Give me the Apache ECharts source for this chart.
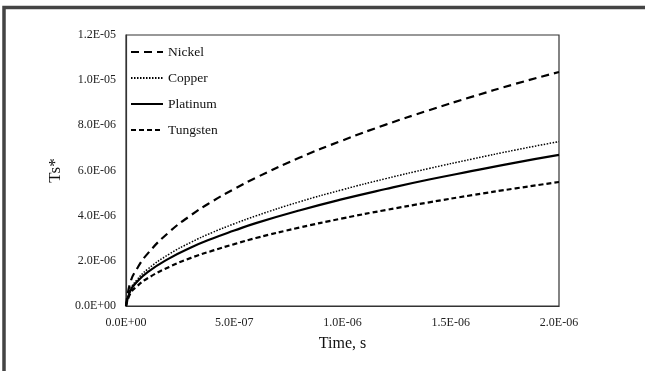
<!DOCTYPE html>
<html><head><meta charset="utf-8">
<script src="https://cdn.jsdelivr.net/npm/echarts@6/dist/echarts.min.js"></script>
<style>html,body{margin:0;padding:0;background:#fff}#c{width:645px;height:371px}</style>
</head><body><div id="c"></div>
<script>
// time (s)
var times = [0, 2e-8, 5e-8, 1e-7, 2e-7, 3e-7, 4e-7, 5e-7, 6e-7, 8e-7, 1e-6, 1.2e-6, 1.4e-6, 1.6e-6, 1.8e-6, 2e-6];
// Ts* values (units of 1e-6)
var nickel   = [0, 1.04, 1.64, 2.32, 3.28, 4.02, 4.64, 5.18, 5.68, 6.56, 7.33, 8.03, 8.67, 9.27, 9.84, 10.36];
var copper   = [0, 0.73, 1.15, 1.63, 2.30, 2.82, 3.26, 3.64, 3.99, 4.61, 5.15, 5.64, 6.09, 6.51, 6.91, 7.28];
var platinum = [0, 0.67, 1.06, 1.50, 2.11, 2.59, 2.99, 3.34, 3.67, 4.23, 4.73, 5.18, 5.60, 5.98, 6.35, 6.69];
var tungsten = [0, 0.55, 0.87, 1.23, 1.73, 2.13, 2.45, 2.74, 3.01, 3.47, 3.88, 4.25, 4.59, 4.91, 5.21, 5.49];
var seriesNames = ['Nickel', 'Copper', 'Platinum', 'Tungsten'];
var xTickLabels = ['0.0E+00', '5.0E-07', '1.0E-06', '1.5E-06', '2.0E-06'];
var yTickLabels = ['0.0E+00', '2.0E-06', '4.0E-06', '6.0E-06', '8.0E-06', '1.0E-05', '1.2E-05'];

function pairs(vals){ return times.map(function(t,i){ return [t, vals[i]*1e-6]; }); }
var font = '"Liberation Serif", "Times New Roman", serif';
var styles = [
  {type:[8,5], width:2.2},
  {type:[1.5,1.5], width:1.5},
  {type:'solid', width:2.2},
  {type:[5,3], width:2.2}
];
var dataSets = [nickel, copper, platinum, tungsten];
var chart = echarts.init(document.getElementById('c'));
chart.setOption({
  animation:false,
  backgroundColor:'#fff',
  graphic:[{type:'rect', shape:{x:4, y:7.5, width:700, height:400}, style:{fill:'none', stroke:'#444', lineWidth:3.5}, silent:true}],
  grid:{left:126, right:86, top:35, bottom:65, show:true, borderColor:'#333', borderWidth:1.2, containLabel:false},
  legend:{
    orient:'vertical', left:125, top:40, itemGap:12, itemWidth:32, itemHeight:14,
    textStyle:{fontFamily:font, fontSize:13.5, color:'#111'},
    itemStyle:{opacity:0, borderWidth:0},
    data:seriesNames
  },
  xAxis:{
    type:'value', min:0, max:2e-6, interval:5e-7,
    name:'Time, s', nameLocation:'middle', nameGap:30,
    nameTextStyle:{fontFamily:font, fontSize:16, color:'#111'},
    axisLine:{show:true, lineStyle:{color:'#333', width:1.2}},
    axisTick:{show:false}, splitLine:{show:false},
    axisLabel:{fontFamily:font, fontSize:12, color:'#222', margin:11,
      formatter:function(v){ return xTickLabels[Math.round(v/5e-7)]; }}
  },
  yAxis:{
    type:'value', min:0, max:1.2e-5, interval:2e-6,
    name:'Ts*', nameLocation:'middle', nameGap:62, nameRotate:90,
    nameTextStyle:{fontFamily:font, fontSize:17, color:'#111'},
    axisLine:{show:true, lineStyle:{color:'#333', width:1.2}},
    axisTick:{show:false}, splitLine:{show:false},
    axisLabel:{fontFamily:font, fontSize:12, color:'#222', margin:10,
      formatter:function(v){ return yTickLabels[Math.round(v/2e-6)]; }}
  },
  series: seriesNames.map(function(n,i){
    return {name:n, type:'line', smooth:true, symbol:'none', data:pairs(dataSets[i]),
      lineStyle:{color:'#000', width:styles[i].width, type:styles[i].type},
      itemStyle:{color:'#000'}};
  })
});
</script></body></html>
